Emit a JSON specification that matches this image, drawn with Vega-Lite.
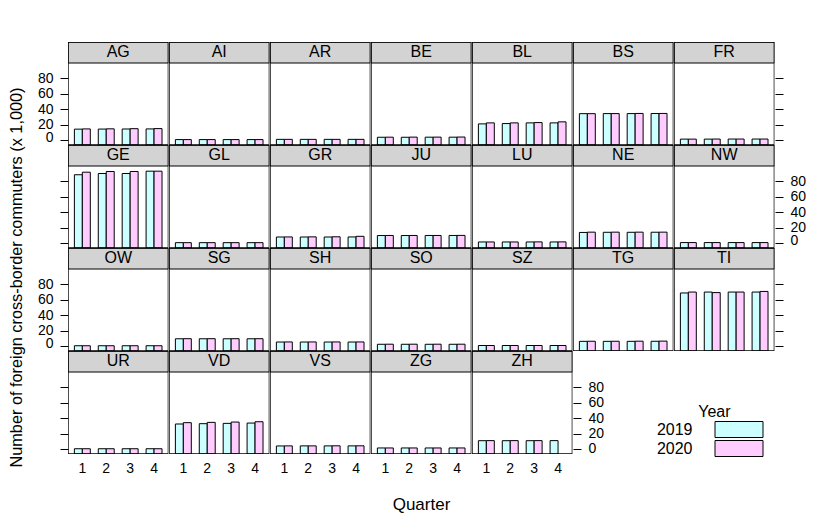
{
  "$schema": "https://vega.github.io/schema/vega-lite/v6.json",
  "padding": {"left": 9, "top": 42, "right": 5, "bottom": 5},
  "data": {"name": "commuters"},
  "datasets": {
    "commuters": [
      {"Canton": "AG", "Quarter": 1, "Year": "2019", "Value": 14.0}, {"Canton": "AG", "Quarter": 1, "Year": "2020", "Value": 14.3},
      {"Canton": "AG", "Quarter": 2, "Year": "2019", "Value": 14.1}, {"Canton": "AG", "Quarter": 2, "Year": "2020", "Value": 14.4},
      {"Canton": "AG", "Quarter": 3, "Year": "2019", "Value": 14.2}, {"Canton": "AG", "Quarter": 3, "Year": "2020", "Value": 14.6},
      {"Canton": "AG", "Quarter": 4, "Year": "2019", "Value": 14.3}, {"Canton": "AG", "Quarter": 4, "Year": "2020", "Value": 14.7},
      {"Canton": "AI", "Quarter": 1, "Year": "2019", "Value": 0.5}, {"Canton": "AI", "Quarter": 1, "Year": "2020", "Value": 0.5},
      {"Canton": "AI", "Quarter": 2, "Year": "2019", "Value": 0.5}, {"Canton": "AI", "Quarter": 2, "Year": "2020", "Value": 0.5},
      {"Canton": "AI", "Quarter": 3, "Year": "2019", "Value": 0.5}, {"Canton": "AI", "Quarter": 3, "Year": "2020", "Value": 0.5},
      {"Canton": "AI", "Quarter": 4, "Year": "2019", "Value": 0.5}, {"Canton": "AI", "Quarter": 4, "Year": "2020", "Value": 0.5},
      {"Canton": "AR", "Quarter": 1, "Year": "2019", "Value": 0.8}, {"Canton": "AR", "Quarter": 1, "Year": "2020", "Value": 0.8},
      {"Canton": "AR", "Quarter": 2, "Year": "2019", "Value": 0.8}, {"Canton": "AR", "Quarter": 2, "Year": "2020", "Value": 0.8},
      {"Canton": "AR", "Quarter": 3, "Year": "2019", "Value": 0.8}, {"Canton": "AR", "Quarter": 3, "Year": "2020", "Value": 0.8},
      {"Canton": "AR", "Quarter": 4, "Year": "2019", "Value": 0.8}, {"Canton": "AR", "Quarter": 4, "Year": "2020", "Value": 0.8},
      {"Canton": "BE", "Quarter": 1, "Year": "2019", "Value": 3.5}, {"Canton": "BE", "Quarter": 1, "Year": "2020", "Value": 3.6},
      {"Canton": "BE", "Quarter": 2, "Year": "2019", "Value": 3.5}, {"Canton": "BE", "Quarter": 2, "Year": "2020", "Value": 3.7},
      {"Canton": "BE", "Quarter": 3, "Year": "2019", "Value": 3.6}, {"Canton": "BE", "Quarter": 3, "Year": "2020", "Value": 3.7},
      {"Canton": "BE", "Quarter": 4, "Year": "2019", "Value": 3.6}, {"Canton": "BE", "Quarter": 4, "Year": "2020", "Value": 3.8},
      {"Canton": "BL", "Quarter": 1, "Year": "2019", "Value": 20.8}, {"Canton": "BL", "Quarter": 1, "Year": "2020", "Value": 22.1},
      {"Canton": "BL", "Quarter": 2, "Year": "2019", "Value": 21.2}, {"Canton": "BL", "Quarter": 2, "Year": "2020", "Value": 22.1},
      {"Canton": "BL", "Quarter": 3, "Year": "2019", "Value": 22.1}, {"Canton": "BL", "Quarter": 3, "Year": "2020", "Value": 22.5},
      {"Canton": "BL", "Quarter": 4, "Year": "2019", "Value": 22.1}, {"Canton": "BL", "Quarter": 4, "Year": "2020", "Value": 23.4},
      {"Canton": "BS", "Quarter": 1, "Year": "2019", "Value": 34.0}, {"Canton": "BS", "Quarter": 1, "Year": "2020", "Value": 34.0},
      {"Canton": "BS", "Quarter": 2, "Year": "2019", "Value": 34.1}, {"Canton": "BS", "Quarter": 2, "Year": "2020", "Value": 34.1},
      {"Canton": "BS", "Quarter": 3, "Year": "2019", "Value": 34.1}, {"Canton": "BS", "Quarter": 3, "Year": "2020", "Value": 34.3},
      {"Canton": "BS", "Quarter": 4, "Year": "2019", "Value": 34.2}, {"Canton": "BS", "Quarter": 4, "Year": "2020", "Value": 34.3},
      {"Canton": "FR", "Quarter": 1, "Year": "2019", "Value": 1.1}, {"Canton": "FR", "Quarter": 1, "Year": "2020", "Value": 1.1},
      {"Canton": "FR", "Quarter": 2, "Year": "2019", "Value": 1.1}, {"Canton": "FR", "Quarter": 2, "Year": "2020", "Value": 1.2},
      {"Canton": "FR", "Quarter": 3, "Year": "2019", "Value": 1.2}, {"Canton": "FR", "Quarter": 3, "Year": "2020", "Value": 1.2},
      {"Canton": "FR", "Quarter": 4, "Year": "2019", "Value": 1.2}, {"Canton": "FR", "Quarter": 4, "Year": "2020", "Value": 1.2},
      {"Canton": "GE", "Quarter": 1, "Year": "2019", "Value": 88.2}, {"Canton": "GE", "Quarter": 1, "Year": "2020", "Value": 91.5},
      {"Canton": "GE", "Quarter": 2, "Year": "2019", "Value": 89.8}, {"Canton": "GE", "Quarter": 2, "Year": "2020", "Value": 92.4},
      {"Canton": "GE", "Quarter": 3, "Year": "2019", "Value": 89.8}, {"Canton": "GE", "Quarter": 3, "Year": "2020", "Value": 92.4},
      {"Canton": "GE", "Quarter": 4, "Year": "2019", "Value": 92.8}, {"Canton": "GE", "Quarter": 4, "Year": "2020", "Value": 92.8},
      {"Canton": "GL", "Quarter": 1, "Year": "2019", "Value": 0.4}, {"Canton": "GL", "Quarter": 1, "Year": "2020", "Value": 0.4},
      {"Canton": "GL", "Quarter": 2, "Year": "2019", "Value": 0.4}, {"Canton": "GL", "Quarter": 2, "Year": "2020", "Value": 0.4},
      {"Canton": "GL", "Quarter": 3, "Year": "2019", "Value": 0.4}, {"Canton": "GL", "Quarter": 3, "Year": "2020", "Value": 0.4},
      {"Canton": "GL", "Quarter": 4, "Year": "2019", "Value": 0.4}, {"Canton": "GL", "Quarter": 4, "Year": "2020", "Value": 0.4},
      {"Canton": "GR", "Quarter": 1, "Year": "2019", "Value": 7.7}, {"Canton": "GR", "Quarter": 1, "Year": "2020", "Value": 7.8},
      {"Canton": "GR", "Quarter": 2, "Year": "2019", "Value": 7.7}, {"Canton": "GR", "Quarter": 2, "Year": "2020", "Value": 7.9},
      {"Canton": "GR", "Quarter": 3, "Year": "2019", "Value": 7.7}, {"Canton": "GR", "Quarter": 3, "Year": "2020", "Value": 8.0},
      {"Canton": "GR", "Quarter": 4, "Year": "2019", "Value": 7.8}, {"Canton": "GR", "Quarter": 4, "Year": "2020", "Value": 8.6},
      {"Canton": "JU", "Quarter": 1, "Year": "2019", "Value": 9.6}, {"Canton": "JU", "Quarter": 1, "Year": "2020", "Value": 9.7},
      {"Canton": "JU", "Quarter": 2, "Year": "2019", "Value": 9.6}, {"Canton": "JU", "Quarter": 2, "Year": "2020", "Value": 9.7},
      {"Canton": "JU", "Quarter": 3, "Year": "2019", "Value": 9.7}, {"Canton": "JU", "Quarter": 3, "Year": "2020", "Value": 9.7},
      {"Canton": "JU", "Quarter": 4, "Year": "2019", "Value": 9.7}, {"Canton": "JU", "Quarter": 4, "Year": "2020", "Value": 9.8},
      {"Canton": "LU", "Quarter": 1, "Year": "2019", "Value": 1.3}, {"Canton": "LU", "Quarter": 1, "Year": "2020", "Value": 1.3},
      {"Canton": "LU", "Quarter": 2, "Year": "2019", "Value": 1.3}, {"Canton": "LU", "Quarter": 2, "Year": "2020", "Value": 1.3},
      {"Canton": "LU", "Quarter": 3, "Year": "2019", "Value": 1.3}, {"Canton": "LU", "Quarter": 3, "Year": "2020", "Value": 1.4},
      {"Canton": "LU", "Quarter": 4, "Year": "2019", "Value": 1.3}, {"Canton": "LU", "Quarter": 4, "Year": "2020", "Value": 1.4},
      {"Canton": "NE", "Quarter": 1, "Year": "2019", "Value": 13.6}, {"Canton": "NE", "Quarter": 1, "Year": "2020", "Value": 14.0},
      {"Canton": "NE", "Quarter": 2, "Year": "2019", "Value": 13.8}, {"Canton": "NE", "Quarter": 2, "Year": "2020", "Value": 14.0},
      {"Canton": "NE", "Quarter": 3, "Year": "2019", "Value": 13.8}, {"Canton": "NE", "Quarter": 3, "Year": "2020", "Value": 14.0},
      {"Canton": "NE", "Quarter": 4, "Year": "2019", "Value": 13.9}, {"Canton": "NE", "Quarter": 4, "Year": "2020", "Value": 14.0},
      {"Canton": "NW", "Quarter": 1, "Year": "2019", "Value": 0.5}, {"Canton": "NW", "Quarter": 1, "Year": "2020", "Value": 0.5},
      {"Canton": "NW", "Quarter": 2, "Year": "2019", "Value": 0.5}, {"Canton": "NW", "Quarter": 2, "Year": "2020", "Value": 0.5},
      {"Canton": "NW", "Quarter": 3, "Year": "2019", "Value": 0.5}, {"Canton": "NW", "Quarter": 3, "Year": "2020", "Value": 0.5},
      {"Canton": "NW", "Quarter": 4, "Year": "2019", "Value": 0.5}, {"Canton": "NW", "Quarter": 4, "Year": "2020", "Value": 0.5},
      {"Canton": "OW", "Quarter": 1, "Year": "2019", "Value": 0.3}, {"Canton": "OW", "Quarter": 1, "Year": "2020", "Value": 0.3},
      {"Canton": "OW", "Quarter": 2, "Year": "2019", "Value": 0.3}, {"Canton": "OW", "Quarter": 2, "Year": "2020", "Value": 0.3},
      {"Canton": "OW", "Quarter": 3, "Year": "2019", "Value": 0.3}, {"Canton": "OW", "Quarter": 3, "Year": "2020", "Value": 0.3},
      {"Canton": "OW", "Quarter": 4, "Year": "2019", "Value": 0.3}, {"Canton": "OW", "Quarter": 4, "Year": "2020", "Value": 0.3},
      {"Canton": "SG", "Quarter": 1, "Year": "2019", "Value": 9.3}, {"Canton": "SG", "Quarter": 1, "Year": "2020", "Value": 9.4},
      {"Canton": "SG", "Quarter": 2, "Year": "2019", "Value": 9.3}, {"Canton": "SG", "Quarter": 2, "Year": "2020", "Value": 9.4},
      {"Canton": "SG", "Quarter": 3, "Year": "2019", "Value": 9.3}, {"Canton": "SG", "Quarter": 3, "Year": "2020", "Value": 9.4},
      {"Canton": "SG", "Quarter": 4, "Year": "2019", "Value": 9.3}, {"Canton": "SG", "Quarter": 4, "Year": "2020", "Value": 9.4},
      {"Canton": "SH", "Quarter": 1, "Year": "2019", "Value": 5.1}, {"Canton": "SH", "Quarter": 1, "Year": "2020", "Value": 5.2},
      {"Canton": "SH", "Quarter": 2, "Year": "2019", "Value": 5.1}, {"Canton": "SH", "Quarter": 2, "Year": "2020", "Value": 5.2},
      {"Canton": "SH", "Quarter": 3, "Year": "2019", "Value": 5.1}, {"Canton": "SH", "Quarter": 3, "Year": "2020", "Value": 5.2},
      {"Canton": "SH", "Quarter": 4, "Year": "2019", "Value": 5.1}, {"Canton": "SH", "Quarter": 4, "Year": "2020", "Value": 5.2},
      {"Canton": "SO", "Quarter": 1, "Year": "2019", "Value": 2.2}, {"Canton": "SO", "Quarter": 1, "Year": "2020", "Value": 2.3},
      {"Canton": "SO", "Quarter": 2, "Year": "2019", "Value": 2.2}, {"Canton": "SO", "Quarter": 2, "Year": "2020", "Value": 2.3},
      {"Canton": "SO", "Quarter": 3, "Year": "2019", "Value": 2.2}, {"Canton": "SO", "Quarter": 3, "Year": "2020", "Value": 2.3},
      {"Canton": "SO", "Quarter": 4, "Year": "2019", "Value": 2.2}, {"Canton": "SO", "Quarter": 4, "Year": "2020", "Value": 2.3},
      {"Canton": "SZ", "Quarter": 1, "Year": "2019", "Value": 0.6}, {"Canton": "SZ", "Quarter": 1, "Year": "2020", "Value": 0.6},
      {"Canton": "SZ", "Quarter": 2, "Year": "2019", "Value": 0.6}, {"Canton": "SZ", "Quarter": 2, "Year": "2020", "Value": 0.6},
      {"Canton": "SZ", "Quarter": 3, "Year": "2019", "Value": 0.6}, {"Canton": "SZ", "Quarter": 3, "Year": "2020", "Value": 0.6},
      {"Canton": "SZ", "Quarter": 4, "Year": "2019", "Value": 0.6}, {"Canton": "SZ", "Quarter": 4, "Year": "2020", "Value": 0.6},
      {"Canton": "TG", "Quarter": 1, "Year": "2019", "Value": 6.0}, {"Canton": "TG", "Quarter": 1, "Year": "2020", "Value": 6.1},
      {"Canton": "TG", "Quarter": 2, "Year": "2019", "Value": 6.0}, {"Canton": "TG", "Quarter": 2, "Year": "2020", "Value": 6.1},
      {"Canton": "TG", "Quarter": 3, "Year": "2019", "Value": 6.0}, {"Canton": "TG", "Quarter": 3, "Year": "2020", "Value": 6.2},
      {"Canton": "TG", "Quarter": 4, "Year": "2019", "Value": 6.1}, {"Canton": "TG", "Quarter": 4, "Year": "2020", "Value": 6.3},
      {"Canton": "TI", "Quarter": 1, "Year": "2019", "Value": 68.5}, {"Canton": "TI", "Quarter": 1, "Year": "2020", "Value": 69.7},
      {"Canton": "TI", "Quarter": 2, "Year": "2019", "Value": 69.7}, {"Canton": "TI", "Quarter": 2, "Year": "2020", "Value": 69.0},
      {"Canton": "TI", "Quarter": 3, "Year": "2019", "Value": 69.7}, {"Canton": "TI", "Quarter": 3, "Year": "2020", "Value": 69.7},
      {"Canton": "TI", "Quarter": 4, "Year": "2019", "Value": 69.7}, {"Canton": "TI", "Quarter": 4, "Year": "2020", "Value": 70.5},
      {"Canton": "UR", "Quarter": 1, "Year": "2019", "Value": 0.3}, {"Canton": "UR", "Quarter": 1, "Year": "2020", "Value": 0.3},
      {"Canton": "UR", "Quarter": 2, "Year": "2019", "Value": 0.3}, {"Canton": "UR", "Quarter": 2, "Year": "2020", "Value": 0.3},
      {"Canton": "UR", "Quarter": 3, "Year": "2019", "Value": 0.3}, {"Canton": "UR", "Quarter": 3, "Year": "2020", "Value": 0.3},
      {"Canton": "UR", "Quarter": 4, "Year": "2019", "Value": 0.3}, {"Canton": "UR", "Quarter": 4, "Year": "2020", "Value": 0.3},
      {"Canton": "VD", "Quarter": 1, "Year": "2019", "Value": 32.3}, {"Canton": "VD", "Quarter": 1, "Year": "2020", "Value": 34.0},
      {"Canton": "VD", "Quarter": 2, "Year": "2019", "Value": 32.7}, {"Canton": "VD", "Quarter": 2, "Year": "2020", "Value": 34.4},
      {"Canton": "VD", "Quarter": 3, "Year": "2019", "Value": 33.1}, {"Canton": "VD", "Quarter": 3, "Year": "2020", "Value": 34.8},
      {"Canton": "VD", "Quarter": 4, "Year": "2019", "Value": 33.5}, {"Canton": "VD", "Quarter": 4, "Year": "2020", "Value": 35.2},
      {"Canton": "VS", "Quarter": 1, "Year": "2019", "Value": 3.9}, {"Canton": "VS", "Quarter": 1, "Year": "2020", "Value": 4.0},
      {"Canton": "VS", "Quarter": 2, "Year": "2019", "Value": 4.0}, {"Canton": "VS", "Quarter": 2, "Year": "2020", "Value": 4.0},
      {"Canton": "VS", "Quarter": 3, "Year": "2019", "Value": 4.0}, {"Canton": "VS", "Quarter": 3, "Year": "2020", "Value": 4.1},
      {"Canton": "VS", "Quarter": 4, "Year": "2019", "Value": 4.0}, {"Canton": "VS", "Quarter": 4, "Year": "2020", "Value": 4.1},
      {"Canton": "ZG", "Quarter": 1, "Year": "2019", "Value": 1.3}, {"Canton": "ZG", "Quarter": 1, "Year": "2020", "Value": 1.3},
      {"Canton": "ZG", "Quarter": 2, "Year": "2019", "Value": 1.3}, {"Canton": "ZG", "Quarter": 2, "Year": "2020", "Value": 1.3},
      {"Canton": "ZG", "Quarter": 3, "Year": "2019", "Value": 1.3}, {"Canton": "ZG", "Quarter": 3, "Year": "2020", "Value": 1.3},
      {"Canton": "ZG", "Quarter": 4, "Year": "2019", "Value": 1.3}, {"Canton": "ZG", "Quarter": 4, "Year": "2020", "Value": 1.3},
      {"Canton": "ZH", "Quarter": 1, "Year": "2019", "Value": 10.7}, {"Canton": "ZH", "Quarter": 1, "Year": "2020", "Value": 10.8},
      {"Canton": "ZH", "Quarter": 2, "Year": "2019", "Value": 10.7}, {"Canton": "ZH", "Quarter": 2, "Year": "2020", "Value": 10.8},
      {"Canton": "ZH", "Quarter": 3, "Year": "2019", "Value": 10.7}, {"Canton": "ZH", "Quarter": 3, "Year": "2020", "Value": 10.8},
      {"Canton": "ZH", "Quarter": 4, "Year": "2019", "Value": 10.8}
    ]
  },
  "title": {"text": "Number of foreign cross-border commuters (x 1,000)", "orient": "left", "anchor": "middle", "fontSize": 16.3, "fontWeight": "normal", "font": "Liberation Sans", "color": "black", "offset": 12},
  "vconcat": [
    {
      "title": {"text": "Quarter", "orient": "bottom", "anchor": "middle", "fontSize": 17, "fontWeight": "normal", "font": "Liberation Sans", "color": "black", "offset": 22},
      "spacing": 0,
      "resolve": {"scale": {"color": "shared"}, "legend": {"color": "shared"}},
      "vconcat": [
        {
          "transform": [{"filter": {"field": "Canton", "oneOf": ["AG", "AI", "AR", "BE", "BL", "BS", "FR"]}}],
          "facet": {"column": {"field": "Canton", "type": "nominal", "header": null, "sort": "ascending"}},
          "spacing": 0,
          "bounds": "flush",
          "spec": {
            "width": 100.4, "height": 103,
            "layer": [
              {
                "mark": {"type": "bar", "stroke": "black", "strokeWidth": 1, "clip": true},
                "encoding": {
                  "x": {"field": "Quarter", "type": "ordinal", "scale": {"paddingInner": 0.3333, "paddingOuter": 0.2667}, "axis": null},
                  "xOffset": {"field": "Year", "type": "nominal"},
                  "y": {"field": "Value", "type": "quantitative", "scale": {"domain": [-6.5, 126.65], "nice": false, "zero": false}, "axis": {"orient": "left", "values": [0, 20, 40, 60, 80], "title": null, "labelOffset": {"condition": {"test": "datum.value === 0", "value": -2.6}, "value": 0}}},
                  "y2": {"datum": -6.5},
                  "color": {"field": "Year", "type": "nominal", "scale": {"range": ["#CCFFFF", "#FFCCFF"]}, "legend": {"title": "Year"}}
                }
              },
              {
                "transform": [{"aggregate": [{"op": "count", "as": "n"}], "groupby": ["Canton"]}],
                "mark": {"type": "rect", "fill": "#D3D3D3", "stroke": "black", "strokeWidth": 1, "clip": true},
                "encoding": {"y": {"datum": 99.5, "axis": {"orient": "right", "values": [0, 20, 40, 60, 80], "title": null, "labels": false}}, "y2": {"datum": 126.65}}
              },
              {
                "transform": [{"aggregate": [{"op": "count", "as": "n"}], "groupby": ["Canton"]}],
                "mark": {"type": "rect", "filled": false, "stroke": "black", "strokeWidth": 1.4, "clip": true},
                "encoding": {"y": {"datum": -6.5, "axis": null}, "y2": {"datum": 126.65}}
              },
              {
                "transform": [{"aggregate": [{"op": "count", "as": "n"}], "groupby": ["Canton"]}],
                "mark": {"type": "text", "fontSize": 16, "baseline": "middle", "align": "center", "color": "black"},
                "encoding": {"y": {"datum": 113.1, "axis": null}, "text": {"field": "Canton"}}
              }
            ],
            "resolve": {"axis": {"y": "independent"}}
          }
        },
        {
          "transform": [{"filter": {"field": "Canton", "oneOf": ["GE", "GL", "GR", "JU", "LU", "NE", "NW"]}}],
          "facet": {"column": {"field": "Canton", "type": "nominal", "header": null, "sort": "ascending"}},
          "spacing": 0,
          "bounds": "flush",
          "spec": {
            "width": 100.4, "height": 103,
            "layer": [
              {
                "mark": {"type": "bar", "stroke": "black", "strokeWidth": 1, "clip": true},
                "encoding": {
                  "x": {"field": "Quarter", "type": "ordinal", "scale": {"paddingInner": 0.3333, "paddingOuter": 0.2667}, "axis": null},
                  "xOffset": {"field": "Year", "type": "nominal"},
                  "y": {"field": "Value", "type": "quantitative", "scale": {"domain": [-6.5, 126.65], "nice": false, "zero": false}, "axis": {"orient": "left", "values": [0, 20, 40, 60, 80], "title": null, "labels": false}},
                  "y2": {"datum": -6.5},
                  "color": {"field": "Year", "type": "nominal", "scale": {"range": ["#CCFFFF", "#FFCCFF"]}, "legend": {"title": "Year"}}
                }
              },
              {
                "transform": [{"aggregate": [{"op": "count", "as": "n"}], "groupby": ["Canton"]}],
                "mark": {"type": "rect", "fill": "#D3D3D3", "stroke": "black", "strokeWidth": 1, "clip": true},
                "encoding": {"y": {"datum": 99.5, "axis": {"orient": "right", "values": [0, 20, 40, 60, 80], "title": null, "labelOffset": {"condition": {"test": "datum.value === 0", "value": -2.6}, "value": 0}}}, "y2": {"datum": 126.65}}
              },
              {
                "transform": [{"aggregate": [{"op": "count", "as": "n"}], "groupby": ["Canton"]}],
                "mark": {"type": "rect", "filled": false, "stroke": "black", "strokeWidth": 1.4, "clip": true},
                "encoding": {"y": {"datum": -6.5, "axis": null}, "y2": {"datum": 126.65}}
              },
              {
                "transform": [{"aggregate": [{"op": "count", "as": "n"}], "groupby": ["Canton"]}],
                "mark": {"type": "text", "fontSize": 16, "baseline": "middle", "align": "center", "color": "black"},
                "encoding": {"y": {"datum": 113.1, "axis": null}, "text": {"field": "Canton"}}
              }
            ],
            "resolve": {"axis": {"y": "independent"}}
          }
        },
        {
          "transform": [{"filter": {"field": "Canton", "oneOf": ["OW", "SG", "SH", "SO", "SZ", "TG", "TI"]}}],
          "facet": {"column": {"field": "Canton", "type": "nominal", "header": null, "sort": "ascending"}},
          "spacing": 0,
          "bounds": "flush",
          "spec": {
            "width": 100.4, "height": 103,
            "layer": [
              {
                "mark": {"type": "bar", "stroke": "black", "strokeWidth": 1, "clip": true},
                "encoding": {
                  "x": {"field": "Quarter", "type": "ordinal", "scale": {"paddingInner": 0.3333, "paddingOuter": 0.2667}, "axis": null},
                  "xOffset": {"field": "Year", "type": "nominal"},
                  "y": {"field": "Value", "type": "quantitative", "scale": {"domain": [-6.5, 126.65], "nice": false, "zero": false}, "axis": {"orient": "left", "values": [0, 20, 40, 60, 80], "title": null, "labelOffset": {"condition": {"test": "datum.value === 0", "value": -2.6}, "value": 0}}},
                  "y2": {"datum": -6.5},
                  "color": {"field": "Year", "type": "nominal", "scale": {"range": ["#CCFFFF", "#FFCCFF"]}, "legend": {"title": "Year"}}
                }
              },
              {
                "transform": [{"aggregate": [{"op": "count", "as": "n"}], "groupby": ["Canton"]}],
                "mark": {"type": "rect", "fill": "#D3D3D3", "stroke": "black", "strokeWidth": 1, "clip": true},
                "encoding": {"y": {"datum": 99.5, "axis": {"orient": "right", "values": [0, 20, 40, 60, 80], "title": null, "labels": false}}, "y2": {"datum": 126.65}}
              },
              {
                "transform": [{"aggregate": [{"op": "count", "as": "n"}], "groupby": ["Canton"]}],
                "mark": {"type": "rect", "filled": false, "stroke": "black", "strokeWidth": 1.4, "clip": true},
                "encoding": {"y": {"datum": -6.5, "axis": null}, "y2": {"datum": 126.65}}
              },
              {
                "transform": [{"aggregate": [{"op": "count", "as": "n"}], "groupby": ["Canton"]}],
                "mark": {"type": "text", "fontSize": 16, "baseline": "middle", "align": "center", "color": "black"},
                "encoding": {"y": {"datum": 113.1, "axis": null}, "text": {"field": "Canton"}}
              }
            ],
            "resolve": {"axis": {"y": "independent"}}
          }
        },
        {
          "transform": [{"filter": {"field": "Canton", "oneOf": ["UR", "VD", "VS", "ZG", "ZH"]}}],
          "facet": {"column": {"field": "Canton", "type": "nominal", "header": null, "sort": "ascending"}},
          "spacing": 0,
          "bounds": "flush",
          "spec": {
            "width": 100.4, "height": 103,
            "layer": [
              {
                "mark": {"type": "bar", "stroke": "black", "strokeWidth": 1, "clip": true},
                "encoding": {
                  "x": {"field": "Quarter", "type": "ordinal", "scale": {"paddingInner": 0.3333, "paddingOuter": 0.2667}, "axis": {"title": null, "labelAngle": 0, "ticks": false, "domain": false, "labelPadding": 7}},
                  "xOffset": {"field": "Year", "type": "nominal"},
                  "y": {"field": "Value", "type": "quantitative", "scale": {"domain": [-6.5, 126.65], "nice": false, "zero": false}, "axis": {"orient": "left", "values": [0, 20, 40, 60, 80], "title": null, "labels": false}},
                  "y2": {"datum": -6.5},
                  "color": {"field": "Year", "type": "nominal", "scale": {"range": ["#CCFFFF", "#FFCCFF"]}, "legend": {"title": "Year"}}
                }
              },
              {
                "transform": [{"aggregate": [{"op": "count", "as": "n"}], "groupby": ["Canton"]}],
                "mark": {"type": "rect", "fill": "#D3D3D3", "stroke": "black", "strokeWidth": 1, "clip": true},
                "encoding": {"y": {"datum": 99.5, "axis": {"orient": "right", "values": [0, 20, 40, 60, 80], "title": null}}, "y2": {"datum": 126.65}}
              },
              {
                "transform": [{"aggregate": [{"op": "count", "as": "n"}], "groupby": ["Canton"]}],
                "mark": {"type": "rect", "filled": false, "stroke": "black", "strokeWidth": 1.4, "clip": true},
                "encoding": {"y": {"datum": -6.5, "axis": null}, "y2": {"datum": 126.65}}
              },
              {
                "transform": [{"aggregate": [{"op": "count", "as": "n"}], "groupby": ["Canton"]}],
                "mark": {"type": "text", "fontSize": 16, "baseline": "middle", "align": "center", "color": "black"},
                "encoding": {"y": {"datum": 113.1, "axis": null}, "text": {"field": "Canton"}}
              }
            ],
            "resolve": {"axis": {"y": "independent"}}
          }
        }
      ]
    }
  ],
  "config": {
    "font": "Liberation Sans",
    "background": "white",
    "view": {"stroke": null},
    "axis": {"domain": false, "grid": false, "tickColor": "black", "tickSize": 8, "tickWidth": 1, "labelFontSize": 14, "labelColor": "black", "labelPadding": 7, "labelFont": "Liberation Sans", "labelOverlap": false},
    "legend": {
      "orient": "none", "legendX": 630.5, "legendY": 362,
      "titleFontSize": 16, "titleFontWeight": "normal", "titleColor": "black", "titleAnchor": "start", "titleAlign": "right", "titlePadding": 1,
      "labelFontSize": 16, "labelColor": "black", "labelAlign": "right", "labelOffset": -55,
      "symbolType": "M-3,-1H3V1H-3Z", "symbolSize": 256, "symbolStrokeColor": "black", "symbolStrokeWidth": 1, "symbolOpacity": 1,
      "rowPadding": -3
    }
  }
}
